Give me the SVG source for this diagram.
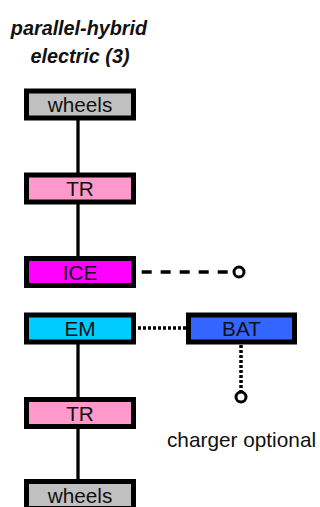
<svg xmlns="http://www.w3.org/2000/svg" width="320" height="507" viewBox="0 0 320 507">
<style>
.box{stroke:#000;stroke-width:5}
.lbl{font-family:"Liberation Sans",Arial,sans-serif;font-size:20.8px;fill:#111;text-anchor:middle}
.title{font-family:"Liberation Sans",Arial,sans-serif;font-size:19.8px;font-weight:bold;font-style:italic;fill:#111;text-anchor:middle}
.solid{stroke:#000;stroke-width:3.3;fill:none}
.dash{stroke:#000;stroke-width:3.3;fill:none;stroke-dasharray:10 9}
.dot{stroke:#000;stroke-width:3.5;fill:none;stroke-dasharray:3 2}
.term{stroke:#000;stroke-width:3;fill:#fff}
</style>
<rect width="320" height="507" fill="#fff"/>
<g id="title">
<text class="title" x="79" y="35">parallel-hybrid</text>
<text class="title" x="80" y="63">electric (3)</text>
</g>
<g id="connectors">
<line class="solid" x1="78" y1="120" x2="78" y2="173"/>
<line class="solid" x1="78" y1="204" x2="78" y2="257"/>
<line class="solid" x1="78" y1="343" x2="78" y2="398"/>
<line class="solid" x1="78" y1="428" x2="78" y2="480"/>
<path class="dash" d="M141.7 272 H234"/>
<circle class="term" cx="239" cy="272" r="5"/>
<path class="dot" d="M138 328 H186"/>
<path class="dot" d="M241 345 V392"/>
<circle class="term" cx="241" cy="397" r="5"/>
</g>
<g id="wheels1"><rect class="box" x="26.5" y="91" width="107" height="27" fill="#c0c0c0"/><text class="lbl" x="80" y="112">wheels</text></g>
<g id="tr1"><rect class="box" x="26.5" y="175" width="107" height="27" fill="#ff99cc"/><text class="lbl" x="80" y="196">TR</text></g>
<g id="ice"><rect class="box" x="26.5" y="258.5" width="107" height="27" fill="#ff00ff"/><text class="lbl" x="80" y="279.5">ICE</text></g>
<g id="em"><rect class="box" x="26.5" y="315" width="107" height="27" fill="#00ccff"/><text class="lbl" x="80" y="336">EM</text></g>
<g id="bat"><rect class="box" x="188.5" y="315" width="106" height="27" fill="#3366ff"/><text class="lbl" x="241.5" y="336">BAT</text></g>
<g id="tr2"><rect class="box" x="26.5" y="399.5" width="107" height="27" fill="#ff99cc"/><text class="lbl" x="80" y="420.5">TR</text></g>
<g id="wheels2"><rect class="box" x="26.5" y="481.5" width="107" height="27" fill="#c0c0c0"/><text class="lbl" x="80" y="502.5">wheels</text></g>
<g id="charger"><text class="lbl" x="241.5" y="447">charger optional</text></g>
</svg>
